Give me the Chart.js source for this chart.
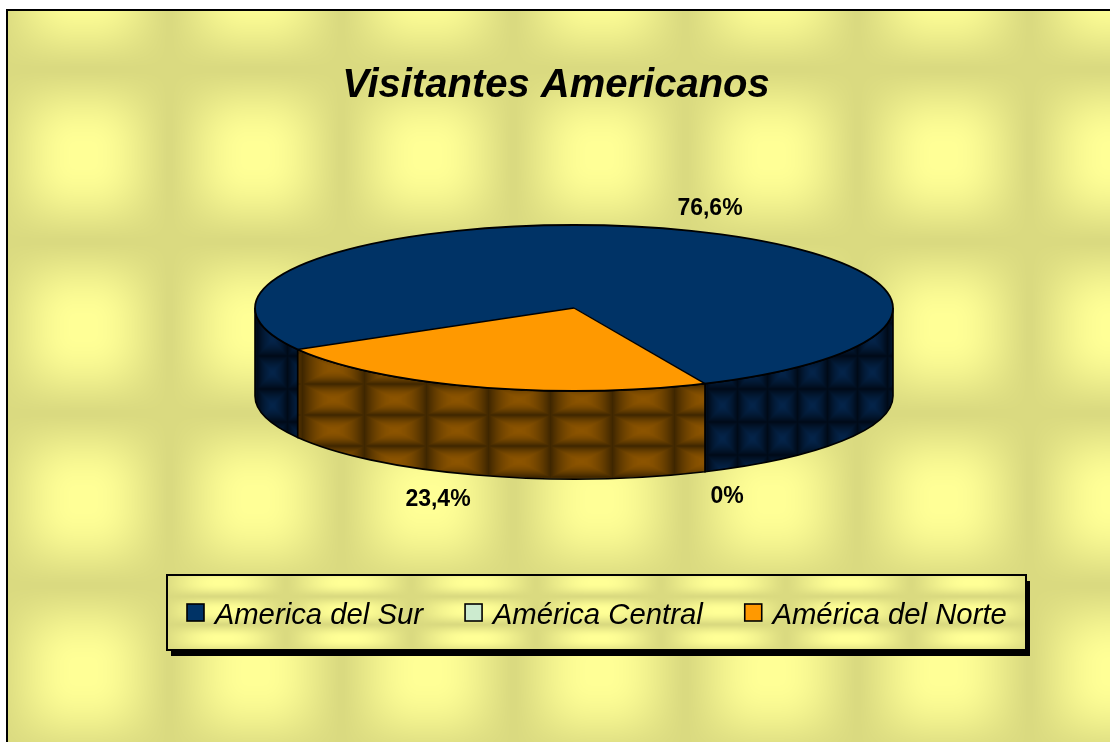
<!DOCTYPE html>
<html><head><meta charset="utf-8">
<style>html,body{margin:0;padding:0;background:#fff;overflow:hidden}canvas{display:block}</style>
<script src="https://cdn.jsdelivr.net/npm/chart.js@4"></script>
</head><body>
<canvas id="c" width="1110" height="742"></canvas>
<script>
const categories = ['America del Sur', 'América Central', 'América del Norte'];
const values = [76.6, 0, 23.4];
const sliceColors = ['#003366', '#CCEBCF', '#FF9900'];
const chartTitle = 'Visitantes Americanos';

const FONT = '"Liberation Sans", Arial, sans-serif';
const CX = 574, CY = 308, RY = 83, DEPTH = 88;
const labelSpots = [[710, 209], [727, 497], [438, 500]];
const swatch = 19;

function tile(w, h, x0, y0, bright, dark, pillow) {
  const cv = document.createElement('canvas'); cv.width = w; cv.height = h;
  const g = cv.getContext('2d'), im = g.createImageData(w, h);
  const prof = (p, per, o) => {
    let t = ((p - o) / per + 0.5) % 1; if (t < 0) t += 1;
    const d = Math.abs(t - 0.5) * 2;
    if (pillow) return 1 - Math.pow(d, pillow);
    const s = Math.min(1, Math.max(0, (d - 0.08) / 0.9));
    return (1 + Math.cos(Math.PI * s)) / 2;
  };
  for (let y = 0; y < h; y++) for (let x = 0; x < w; x++) {
    const fx = prof(x, w, x0), fy = prof(y, h, y0);
    const v = pillow ? Math.min(fx, fy) : Math.pow(fx * fy, 0.6);
    const i = (y * w + x) * 4;
    for (let c = 0; c < 3; c++) im.data[i + c] = dark[c] + (bright[c] - dark[c]) * v;
    im.data[i + 3] = 255;
  }
  g.putImageData(im, 0, 0);
  return cv;
}
const bgTile = tile(172, 172, 83, 155, [255, 255, 150], [218, 218, 128], 0);
const legendTile = tile(125, 28, 223, 582, [255, 255, 150], [218, 218, 128], 0);
const sideTiles = [
  tile(30, 33, 722, 405, [4, 36, 74], [0, 10, 24], 1.5),
  null,
  tile(62, 31, 333, 399, [140, 84, 0], [62, 38, 0], 1.9)
];

const LEG = { l: 167, t: 575, r: 1026, b: 650 };

const pie3d = {
  id: 'pie3d',
  afterLayout(chart) {
    const t = chart.titleBlock;
    t.left = 100; t.right = 1012; t.top = 62; t.bottom = 112;
    const lg = chart.legend;
    const pad = lg.options.labels.padding;
    lg.left = 186 - pad; lg.right = 1110; lg.top = 560.5; lg.bottom = 650;
    lg.adjustHitBoxes();
  },
  beforeDraw(chart) {
    const ctx = chart.ctx;
    ctx.save();
    ctx.fillStyle = ctx.createPattern(bgTile, 'repeat');
    ctx.fillRect(7, 10, 1110, 742);
    ctx.strokeStyle = '#000'; ctx.lineWidth = 2;
    ctx.strokeRect(7, 10, 1120, 760);
    // legend frame with its shadow
    ctx.fillStyle = '#000';
    ctx.fillRect(LEG.l + 4, LEG.t + 6, LEG.r - LEG.l, LEG.b - LEG.t);
    ctx.fillStyle = ctx.createPattern(legendTile, 'repeat');
    ctx.fillRect(LEG.l, LEG.t, LEG.r - LEG.l, LEG.b - LEG.t);
    ctx.strokeRect(LEG.l, LEG.t, LEG.r - LEG.l, LEG.b - LEG.t);
    ctx.restore();
  },
  beforeDatasetsDraw(chart) {
    const ctx = chart.ctx, arcs = chart.getDatasetMeta(0).data;
    const rx = arcs[0].outerRadius;
    const norm = a => { const T = Math.PI * 2; return ((a % T) + T) % T; };
    ctx.save();
    arcs.forEach((arc, i) => {
      if (!values[i] || !sideTiles[i]) return;
      const a = norm(arc.startAngle), span = arc.endAngle - arc.startAngle;
      const parts = [];
      const add = (s, e) => { const lo = Math.max(s, 0), hi = Math.min(e, Math.PI); if (hi > lo) parts.push([lo, hi]); };
      add(a, a + span); add(a - Math.PI * 2, a + span - Math.PI * 2);
      parts.forEach(([s, e]) => {
        ctx.beginPath();
        ctx.ellipse(CX, CY, rx, RY, 0, s, e);
        ctx.ellipse(CX, CY + DEPTH, rx, RY, 0, e, s, true);
        ctx.closePath();
        ctx.fillStyle = ctx.createPattern(sideTiles[i], 'repeat');
        ctx.fill();
        ctx.strokeStyle = '#000'; ctx.lineWidth = 1.6; ctx.stroke();
      });
    });
    ctx.restore();
    ctx.save();
    ctx.translate(CX, CY);
    ctx.scale(1, RY / rx);
    ctx.translate(-arcs[0].x, -arcs[0].y);
  },
  afterDatasetsDraw(chart) {
    const ctx = chart.ctx, arcs = chart.getDatasetMeta(0).data;
    ctx.restore();
    const rx = arcs[0].outerRadius;
    ctx.save();
    ctx.strokeStyle = '#000'; ctx.lineWidth = 1.8; ctx.lineJoin = 'round';
    ctx.beginPath(); ctx.ellipse(CX, CY, rx, RY, 0, 0, Math.PI * 2); ctx.stroke();
    ctx.lineWidth = 1.4;
    arcs.forEach((arc, i) => {
      if (!values[i]) return;
      ctx.beginPath(); ctx.moveTo(CX, CY);
      ctx.lineTo(CX + rx * Math.cos(arc.startAngle), CY + RY * Math.sin(arc.startAngle));
      ctx.stroke();
    });
    // percentage labels
    ctx.fillStyle = '#000';
    ctx.font = 'bold 23px ' + FONT;
    ctx.textAlign = 'center'; ctx.textBaseline = 'middle';
    values.forEach((v, i) => {
      ctx.fillText(String(v).replace('.', ',') + '%', labelSpots[i][0], labelSpots[i][1]);
    });
    ctx.restore();
  },
  afterDraw(chart) {
    const ctx = chart.ctx;
    ctx.save();
    chart.legend.legendHitBoxes.forEach((h, i) => {
      const y = 604;
      ctx.fillStyle = sliceColors[i];
      ctx.strokeStyle = '#000'; ctx.lineWidth = 1.6;
      ctx.fillRect(h.left + 1, y, swatch - 2, swatch - 2);
      ctx.strokeRect(h.left + 1, y, swatch - 2, swatch - 2);
    });
    ctx.restore();
  }
};

new Chart(document.getElementById('c'), {
  type: 'pie',
  data: {
    labels: categories,
    datasets: [{ data: values, backgroundColor: sliceColors, borderWidth: 0, clip: false }]
  },
  options: {
    responsive: false, animation: false,
    radius: 319, rotation: 240,
    plugins: {
      tooltip: { enabled: false },
      title: { display: true, text: chartTitle, color: '#000', padding: 0,
        font: { family: FONT, size: 40, weight: 'bold', style: 'italic', lineHeight: 1.2 } },
      legend: { display: true, position: 'bottom', align: 'start',
        labels: { color: '#000', boxWidth: 14, boxHeight: 14, padding: 41,
          font: { family: FONT, size: 29.3, style: 'italic' },
          generateLabels: c => c.data.labels.map((t, i) => ({ text: t, index: i, fillStyle: 'rgba(0,0,0,0)', strokeStyle: 'rgba(0,0,0,0)', lineWidth: 0, hidden: false })) } }
    }
  },
  plugins: [pie3d]
});
</script>
</body></html>
